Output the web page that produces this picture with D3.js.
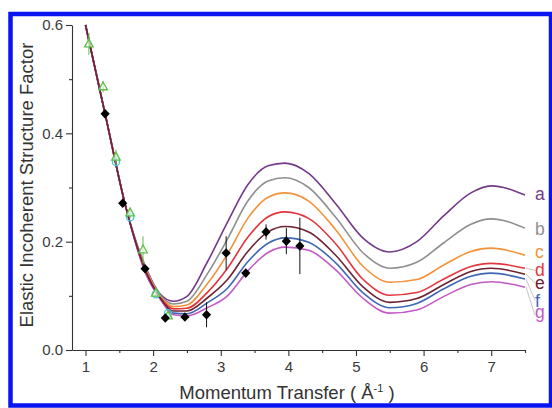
<!DOCTYPE html>
<html>
<head>
<meta charset="utf-8">
<script src="https://cdn.jsdelivr.net/npm/d3@7"></script>
<style>
  body { margin: 0; background: #fff; }
  svg { display: block; }
</style>
</head>
<body>
<svg id="chart" width="552" height="408"></svg>
<script>
// momentum transfer grid for the model curves
var qGrid = [1.0, 1.3, 1.6, 1.9, 2.1, 2.3, 2.5, 2.8, 3.1, 3.4, 3.7, 3.95, 4.3, 4.7, 5.1, 5.5, 5.9, 6.3, 6.7, 7.0, 7.5];

var curveA = [0.600, 0.430, 0.262, 0.150, 0.104, 0.090, 0.099, 0.162, 0.236, 0.305, 0.340, 0.345, 0.326, 0.270, 0.207, 0.181, 0.200, 0.248, 0.290, 0.303, 0.286];
var curveB = [0.600, 0.430, 0.262, 0.148, 0.102, 0.085, 0.090, 0.140, 0.205, 0.275, 0.312, 0.318, 0.300, 0.245, 0.180, 0.151, 0.162, 0.198, 0.232, 0.242, 0.225];
var curveC = [0.600, 0.430, 0.262, 0.146, 0.100, 0.080, 0.083, 0.122, 0.177, 0.243, 0.282, 0.290, 0.275, 0.222, 0.155, 0.125, 0.130, 0.157, 0.182, 0.188, 0.175];
var curveD = [0.600, 0.430, 0.262, 0.144, 0.098, 0.076, 0.077, 0.106, 0.151, 0.208, 0.246, 0.255, 0.243, 0.196, 0.131, 0.101, 0.106, 0.131, 0.154, 0.160, 0.151];
var curveE = [0.600, 0.430, 0.262, 0.142, 0.097, 0.072, 0.072, 0.096, 0.130, 0.182, 0.218, 0.228, 0.218, 0.175, 0.117, 0.088, 0.095, 0.121, 0.145, 0.151, 0.140];
var curveF = [0.600, 0.430, 0.262, 0.140, 0.096, 0.068, 0.067, 0.087, 0.114, 0.163, 0.197, 0.207, 0.199, 0.161, 0.106, 0.078, 0.086, 0.113, 0.136, 0.142, 0.131];
var curveG = [0.600, 0.430, 0.262, 0.138, 0.095, 0.065, 0.063, 0.078, 0.100, 0.146, 0.180, 0.190, 0.184, 0.148, 0.096, 0.068, 0.074, 0.099, 0.121, 0.126, 0.116];

var curveNames = ['a', 'b', 'c', 'd', 'e', 'f', 'g'];

// measured points (black diamonds)
var diaQ = [1.29, 1.55, 1.88, 2.18, 2.47, 2.79, 3.08, 3.37, 3.67, 3.97, 4.17];
var diaV = [0.436, 0.271, 0.150, 0.059, 0.061, 0.065, 0.179, 0.142, 0.218, 0.201, 0.192];
var diaErr = [0.006, 0.006, 0.006, 0.005, 0.005, 0.023, 0.031, 0.006, 0.014, 0.024, 0.052];

// green open triangles
var triQ = [1.05, 1.26, 1.45, 1.66, 1.85, 2.04, 2.22];
var triV = [0.565, 0.486, 0.356, 0.253, 0.185, 0.105, 0.063];
var triErr = [0.02, 0.01, 0.014, 0.01, 0.025, 0.008, 0.008];

// cyan open circles
var cirQ = [1.45, 1.66, 2.04, 2.22];
var cirV = [0.347, 0.245, 0.103, 0.068];

var yMajor = [0, 0.2, 0.4, 0.6];
var yMinor = [0.1, 0.3, 0.5];
var xMajor = [1, 2, 3, 4, 5, 6, 7];
var xMinor = [1.5, 2.5, 3.5, 4.5, 5.5, 6.5, 7.5];

var colors = ['#74398a', '#8f8f8f', '#f39238', '#e4353c', '#6e2230', '#3f67b3', '#c35ac6'];
var font = '"Liberation Sans", Arial, sans-serif';

var svg = d3.select('#chart');

// blue frame
svg.append('rect')
  .attr('x', 10.5).attr('y', 14)
  .attr('width', 540.5).attr('height', 391.5)
  .attr('fill', '#fff')
  .attr('stroke', '#0a14f0')
  .attr('stroke-width', 4.5);

var x = d3.scaleLinear().domain([0.8, 7.5]).range([72, 525]);
var y = d3.scaleLinear().domain([0, 0.6]).range([350, 25]);

// axes
function styleAxis(g) {
  g.selectAll('path, line').attr('stroke', '#333').attr('stroke-width', 1.1);
  g.selectAll('text').attr('fill', '#3a3a3a').attr('font-family', font).attr('font-size', 15);
}

svg.append('g')
  .attr('transform', 'translate(72,0)')
  .call(d3.axisLeft(y).tickValues(yMajor).tickSize(6).tickSizeOuter(0).tickPadding(3).tickFormat(d3.format('.1f')))
  .call(styleAxis);
svg.append('g')
  .attr('transform', 'translate(72,0)')
  .call(d3.axisLeft(y).tickValues(yMinor).tickSize(3).tickFormat(''))
  .call(styleAxis)
  .select('.domain').remove();

svg.append('g')
  .attr('transform', 'translate(0,350)')
  .call(d3.axisBottom(x).tickValues(xMajor).tickSize(6).tickSizeOuter(0).tickPadding(5).tickFormat(d3.format('d')))
  .call(styleAxis);
svg.append('g')
  .attr('transform', 'translate(0,350)')
  .call(d3.axisBottom(x).tickValues(xMinor).tickSize(3).tickFormat(''))
  .call(styleAxis)
  .select('.domain').remove();

// axis titles
svg.append('text')
  .attr('transform', 'translate(33,185) rotate(-90)')
  .attr('text-anchor', 'middle')
  .attr('font-family', font)
  .attr('font-size', 18.5)
  .attr('fill', '#333')
  .text('Elastic Incoherent Structure Factor');

var xt = svg.append('text')
  .attr('x', 287).attr('y', 399)
  .attr('text-anchor', 'middle')
  .attr('font-family', font)
  .attr('font-size', 18.5)
  .attr('fill', '#333');
xt.append('tspan').text('Momentum Transfer ( Å');
xt.append('tspan').attr('font-size', 11).attr('dy', -7).text('-1');
xt.append('tspan').attr('dy', 7).text(' )');

// model curves
var series = [curveA, curveB, curveC, curveD, curveE, curveF, curveG];
var line = d3.line()
  .x((d, i) => x(qGrid[i]))
  .y((d) => y(d))
  .curve(d3.curveMonotoneX);

var order = [0, 1, 2, 3, 5, 6, 4];
svg.append('g')
  .selectAll('path')
  .data(order)
  .enter()
  .append('path')
  .attr('d', (k) => line(series[k]))
  .attr('fill', 'none')
  .attr('stroke', (k) => colors[k])
  .attr('stroke-width', 1.6);

// curve labels (label heights in data units)
var labelAt = [0.2775, 0.2132, 0.1704, 0.1357, 0.1132, 0.0803, 0.0596];
var labelMid = [0, 0, 0, 0.147, 0.124, 0.092, 0.064];
var lg = svg.append('g');
curveNames.forEach(function (nm, k) {
  if (k >= 3) {
    lg.append('line')
      .attr('x1', x(7.5) + 1).attr('y1', y(series[k][series[k].length - 1]))
      .attr('x2', 535).attr('y2', y(labelMid[k]))
      .attr('stroke', '#b8b8b8').attr('stroke-width', 0.8);
  }
  lg.append('text')
    .attr('x', 535).attr('y', y(labelAt[k]))
    .attr('font-family', font)
    .attr('font-size', 17.5)
    .attr('fill', colors[k])
    .text(nm);
});

// error bars
var eb = svg.append('g');
triQ.forEach(function (q, i) {
  eb.append('line')
    .attr('x1', x(q)).attr('x2', x(q))
    .attr('y1', y(triV[i] - triErr[i])).attr('y2', y(triV[i] + triErr[i]))
    .attr('stroke', '#5cbf46').attr('stroke-width', 1);
});
diaQ.forEach(function (q, i) {
  eb.append('line')
    .attr('x1', x(q)).attr('x2', x(q))
    .attr('y1', y(diaV[i] - diaErr[i])).attr('y2', y(diaV[i] + diaErr[i]))
    .attr('stroke', '#111').attr('stroke-width', 1);
});

// cyan circles
svg.append('g')
  .selectAll('circle')
  .data(cirQ)
  .enter()
  .append('circle')
  .attr('cx', (d) => x(d))
  .attr('cy', (d, i) => y(cirV[i]))
  .attr('r', 3.6)
  .attr('fill', 'none')
  .attr('stroke', '#45c8dc')
  .attr('stroke-width', 1.3);

// green triangles
svg.append('g')
  .selectAll('path')
  .data(triQ)
  .enter()
  .append('path')
  .attr('d', 'M0,-4.8 L4.3,3 L-4.3,3 Z')
  .attr('transform', (d, i) => 'translate(' + x(d) + ',' + y(triV[i]) + ')')
  .attr('fill', 'rgba(255,255,255,0.6)')
  .attr('stroke', '#5cbf46')
  .attr('stroke-width', 1.3);

// black diamonds
svg.append('g')
  .selectAll('path')
  .data(diaQ)
  .enter()
  .append('path')
  .attr('d', 'M0,-4.8 L4.6,0 L0,4.8 L-4.6,0 Z')
  .attr('transform', (d, i) => 'translate(' + x(d) + ',' + y(diaV[i]) + ')')
  .attr('fill', '#000');
</script>
</body>
</html>
